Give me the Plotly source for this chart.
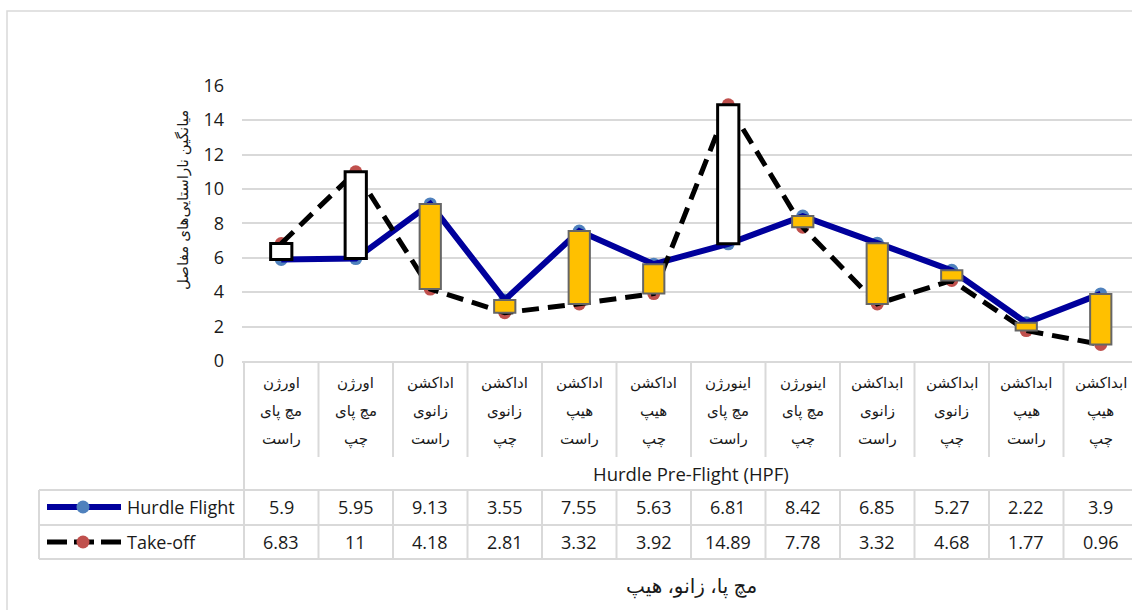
import plotly.graph_objects as go

# ---------------- data ----------------
categories = [
    "اورژن\nمچ پای\nراست",
    "اورژن\nمچ پای\nچپ",
    "اداکشن\nزانوی\nراست",
    "اداکشن\nزانوی\nچپ",
    "اداکشن\nهیپ\nراست",
    "اداکشن\nهیپ\nچپ",
    "اینورژن\nمچ پای\nراست",
    "اینورژن\nمچ پای\nچپ",
    "ابداکشن\nزانوی\nراست",
    "ابداکشن\nزانوی\nچپ",
    "ابداکشن\nهیپ\nراست",
    "ابداکشن\nهیپ\nچپ",
]
series_names = ["Hurdle Flight", "Take-off"]
hurdle_flight = [5.9, 5.95, 9.13, 3.55, 7.55, 5.63, 6.81, 8.42, 6.85, 5.27, 2.22, 3.9]
take_off = [6.83, 11, 4.18, 2.81, 3.32, 3.92, 14.89, 7.78, 3.32, 4.68, 1.77, 0.96]
y_ticks = [0, 2, 4, 6, 8, 10, 12, 14, 16]
group_label = "Hurdle Pre-Flight (HPF)"
x_title = "مچ پا، زانو، هیپ"
y_title = "میانگین ناراستایی\u200cهای مفاصل"

# ---------------- layout helpers ----------------
W, H = 1132, 610
CELL = 74.5          # px per category
PLOT_LEFT = 242      # px where plotting area starts
AX_LEFT = 244        # px of first category boundary
Y0_PX, Y16_PX = 361, 85.7

def py(p):
    return (H - p) / H

def px(p):
    return p / W

x_idx = list(range(len(categories)))
xmin = -0.5 - (AX_LEFT - PLOT_LEFT) / CELL
xmax = xmin + (W - PLOT_LEFT) / CELL

FONT = "Open Sans, DejaVu Sans, sans-serif"
GRID = "#d9d9d9"
TXT = "#1a1a1a"

HF_LINE = "#00009c"
HF_MARK = "#4f81bd"
TO_MARK = "#c0504d"
DASH = "17px,9px"

fig = go.Figure()

# markers below lines
fig.add_trace(go.Scatter(x=x_idx, y=hurdle_flight, mode="markers",
                         marker=dict(size=13, color=HF_MARK),
                         hoverinfo="skip", showlegend=False))
fig.add_trace(go.Scatter(x=x_idx, y=take_off, mode="markers",
                         marker=dict(size=13, color=TO_MARK),
                         hoverinfo="skip", showlegend=False))
fig.add_trace(go.Scatter(x=x_idx, y=hurdle_flight, mode="lines", name=series_names[0],
                         line=dict(color=HF_LINE, width=6),
                         hoverinfo="skip", showlegend=False))
fig.add_trace(go.Scatter(x=x_idx, y=take_off, mode="lines", name=series_names[1],
                         line=dict(color="black", width=5, dash=DASH),
                         hoverinfo="skip", showlegend=False))

# up / down bars (on overlaying axis so they sit above the lines)
up_x, up_base, up_h, dn_x, dn_base, dn_h = [], [], [], [], [], []
for i, (a, b) in enumerate(zip(hurdle_flight, take_off)):
    if b > a:
        up_x.append(i); up_base.append(a); up_h.append(b - a)
    else:
        dn_x.append(i); dn_base.append(b); dn_h.append(a - b)

fig.add_trace(go.Bar(x=up_x, y=up_h, base=up_base, width=0.285, yaxis="y2",
                     marker=dict(color="white", line=dict(color="black", width=3)),
                     hoverinfo="skip", showlegend=False))
fig.add_trace(go.Bar(x=dn_x, y=dn_h, base=dn_base, width=0.285, yaxis="y2",
                     marker=dict(color="#ffc000", line=dict(color="#666666", width=2)),
                     hoverinfo="skip", showlegend=False))

shapes = []
annotations = []

def hline(y, x0, x1, xref="paper"):
    shapes.append(dict(type="line", xref=xref, yref="paper", x0=x0, x1=x1,
                       y0=py(y), y1=py(y), line=dict(color=GRID, width=2)))

def vline(x, y0, y1, xref="x"):
    shapes.append(dict(type="line", xref=xref, yref="paper", x0=x, x1=x,
                       y0=py(y0), y1=py(y1), line=dict(color=GRID, width=2)))

# outer chart border
shapes.append(dict(type="rect", xref="paper", yref="paper",
                   x0=px(7), x1=px(W + 20), y0=py(11), y1=py(H + 20),
                   line=dict(color=GRID, width=1.5), fillcolor="rgba(0,0,0,0)"))

# category label cells
n = len(categories)
for k in range(n + 1):
    vline(k - 0.5, Y0_PX, 490 if k == 0 else 457)
# data table rows
for yy in (490, 525, 559):
    hline(yy, px(39), px(W + 20))
for k in range(n + 1):
    vline(k - 0.5, 490, 559)
vline(px(39), 490, 559, xref="paper")

# category labels (three lines each)
for i, cat in enumerate(categories):
    for j, part in enumerate(cat.split("\n")):
        annotations.append(dict(x=i, xref="x", y=py(382 + 28 * j), yref="paper",
                                text=part, showarrow=False, xanchor="center",
                                yanchor="middle", font=dict(size=15, color=TXT, family=FONT)))

# group label
annotations.append(dict(x=(n - 1) / 2, xref="x", y=py(473), yref="paper",
                        text=group_label, showarrow=False, xanchor="center", yanchor="middle",
                        font=dict(size=18.5, color=TXT, family=FONT)))

# data values
for row_y, vals in ((507, hurdle_flight), (542, take_off)):
    for i, v in enumerate(vals):
        annotations.append(dict(x=i, xref="x", y=py(row_y), yref="paper",
                                text=f"{v:g}", showarrow=False, xanchor="center",
                                yanchor="middle", font=dict(size=18, color=TXT, family=FONT)))

# legend keys inside table
for row_y, name in ((507, series_names[0]), (542, series_names[1])):
    annotations.append(dict(x=px(125), xref="paper", y=py(row_y), yref="paper",
                            text=name, showarrow=False, xanchor="left", yanchor="middle",
                            font=dict(size=18, color=TXT, family=FONT)))
shapes.append(dict(type="line", xref="paper", yref="paper", x0=px(47), x1=px(121),
                   y0=py(507), y1=py(507), line=dict(color=HF_LINE, width=6)))
shapes.append(dict(type="circle", xref="paper", yref="paper",
                   x0=px(83 - 6.5), x1=px(83 + 6.5), y0=py(507 + 6.5), y1=py(507 - 6.5),
                   fillcolor=HF_MARK, line=dict(width=0)))
shapes.append(dict(type="line", xref="paper", yref="paper", x0=px(47), x1=px(121),
                   y0=py(542), y1=py(542), line=dict(color="black", width=5, dash="20px,7px")))
shapes.append(dict(type="circle", xref="paper", yref="paper",
                   x0=px(83 - 6.5), x1=px(83 + 6.5), y0=py(542 + 6.5), y1=py(542 - 6.5),
                   fillcolor=TO_MARK, line=dict(width=0)))

# axis titles
annotations.append(dict(x=px(182), xref="paper", y=py(200), yref="paper", text=y_title,
                        textangle=-90, showarrow=False, xanchor="center", yanchor="middle",
                        font=dict(size=15, color=TXT, family=FONT)))
annotations.append(dict(x=(n - 1) / 2, xref="x", y=py(585), yref="paper", text=x_title,
                        showarrow=False, xanchor="center", yanchor="middle",
                        font=dict(size=20, color=TXT, family=FONT)))

y_domain = [py(Y0_PX), py(Y16_PX)]

fig.update_layout(
    width=W, height=H, autosize=False,
    margin=dict(l=0, r=0, t=0, b=0, pad=0, autoexpand=False),
    paper_bgcolor="white", plot_bgcolor="white",
    barmode="overlay",
    font=dict(family=FONT, color=TXT),
    xaxis=dict(domain=[px(PLOT_LEFT), 1], range=[xmin, xmax], showgrid=False,
               zeroline=False, showticklabels=False, ticks="", automargin=False,
               showline=True, linecolor=GRID, linewidth=2, fixedrange=True),
    yaxis=dict(domain=y_domain, range=[0, 16], tickvals=y_ticks, automargin=False,
               showgrid=True, gridcolor=GRID, gridwidth=1.5, zeroline=False,
               ticks="", ticklabelstandoff=17, tickfont=dict(size=18, color=TXT, family=FONT),
               fixedrange=True),
    yaxis2=dict(overlaying="y", range=[0, 16], visible=False, fixedrange=True,
                automargin=False),
    shapes=shapes,
    annotations=annotations,
    showlegend=False,
)

fig.write_html("out.html", config={"displayModeBar": False},
               post_script="document.body.style.margin='0';")
